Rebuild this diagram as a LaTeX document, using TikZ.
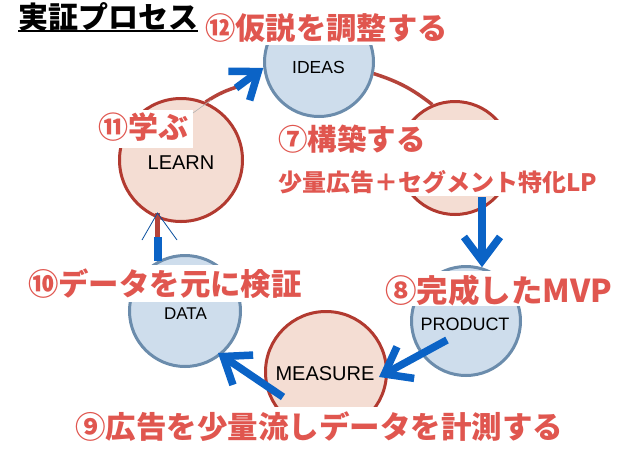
\documentclass[tikz,border=0pt]{standalone}
\usepackage{fontspec}
\newfontfamily\jp{Noto Sans CJK JP}
\newfontfamily\lat{Liberation Sans}
\usetikzlibrary{arrows.meta}
\definecolor{lblred}{HTML}{E0564F}
\definecolor{arrblue}{HTML}{0B63C6}
\definecolor{bfill}{HTML}{CEDDEC}
\definecolor{bdraw}{HTML}{6B8CAC}
\definecolor{rfill}{HTML}{F4DDD3}
\definecolor{rdraw}{HTML}{B23A30}
\definecolor{rline}{HTML}{B5433A}
\begin{document}
\begin{tikzpicture}[x=1pt,y=-1pt,
  bcirc/.style={circle, draw=bdraw, fill=bfill, line width=3pt, inner sep=0pt, minimum size=#1},
  rcirc/.style={circle, draw=rdraw, fill=rfill, line width=3pt, inner sep=0pt, minimum size=#1},
  ctext/.style={font=\lat\fontsize{#1}{#1}\selectfont, inner sep=0pt, text=black},
  lbl/.style={anchor=west, text=lblred, inner sep=0pt, font=\jp\bfseries\fontsize{#1}{#1}\selectfont},
  mask/.style={fill=white},
  connector/.style={draw=rline, line width=3.5pt},
  barrow/.style={draw=arrblue, line width=7.5pt, -{Straight Barb[length=24pt,width=36pt]}},
  thinarr/.style={draw=arrblue!80!black, line width=0.8pt},
]
\useasboundingbox (0,0) rectangle (638,451);
\fill[white] (0,0) rectangle (638,451);

% circles
\node[bcirc=109pt] (IDEAS) at (319,62) {};
\node[rcirc=113pt] (BUILD) at (455,158) {};
\node[bcirc=109pt] (PRODUCT) at (466,321) {};
\node[rcirc=121pt] (MEASURE) at (326,372) {};
\node[bcirc=111pt] (DATA) at (185,311) {};
\node[rcirc=123pt] (LEARN) at (181,160) {};

\node[ctext=17.5] (tIDEAS) at (318.5,67.5) {IDEAS};
\node[ctext=20] (tLEARN) at (181,162.5) {LEARN};
\node[ctext=17] (tDATA) at (185.5,313.5) {DATA};
\node[ctext=18] (tPRODUCT) at (465,324.5) {PRODUCT};
\node[ctext=20] (tMEASURE) at (325,373.5) {MEASURE};

% red connectors
\draw[connector] (IDEAS.-12) to[bend left=10] (BUILD.113);
\coordinate (lrend) at (240,86);
\draw[connector] (LEARN.67) to[bend left=8] (lrend);
\coordinate (lt) at (157.5,213);
\draw[connector, line width=4.5pt] (lt) -- (lt |- DATA.119);

% white masks behind labels
\fill[mask] (203,0) rectangle (452,45);
\fill[mask] (97,110) rectangle (193,148);
\fill[mask] (272,120) rectangle (612,196);
\fill[mask] (25,265) rectangle (310,302);
\fill[mask] (383,271) rectangle (625,306);
\fill[mask] (65,407) rectangle (575,451);

\coordinate (g1) at (193,113);
\coordinate (g2) at (211,100);
\draw[gray!60, line width=0.6pt] (g1) -- (g2);

% blue arrows
\coordinate (a1s) at (236,88);
\draw[barrow] (a1s) -- (IDEAS.186);
\coordinate (a2s) at (482,197);
\draw[barrow] (a2s) -- (a2s |- PRODUCT.74);
\coordinate (a3s) at (447,340);
\coordinate (a3e) at (379,377);
\draw[barrow] (a3s) -- (a3e);
\coordinate (a4s) at (283,397);
\coordinate (a4e) at (218,353);
\draw[barrow] (a4s) -- (a4e);
\coordinate (bb) at (157.5,237);
\draw[draw=arrblue, line width=8pt] (bb) -- (lt |- DATA.119);
\coordinate (wl) at (142,240);
\coordinate (wr) at (177,240);
\draw[thinarr] (wl) -- (lt) -- (wr);

% labels
\node[anchor=west, inner sep=0pt, font=\jp\bfseries\fontsize{30}{30}\selectfont] (title) at (18,16.5) {実証プロセス};
\draw[line width=2pt] (title.south west) -- (title.south east);
\node[lbl=30.3] (t12) at (205,28) {⑫仮説を調整する};
\node[lbl=30] (t11) at (98,127) {⑪学ぶ};
\node[lbl=29.5] (t7) at (278,139) {⑦構築する};
\node[lbl=24] (t7b) at (278,182) {少量広告＋セグメント特化LP};
\node[lbl=31.5] (t8) at (385,290) {⑧完成したMVP};
\node[lbl=30.4] (t10) at (28,284) {⑩データを元に検証};
\node[lbl=30.5] (t9) at (75,427) {⑨広告を少量流しデータを計測する};
\end{tikzpicture}
\end{document}
